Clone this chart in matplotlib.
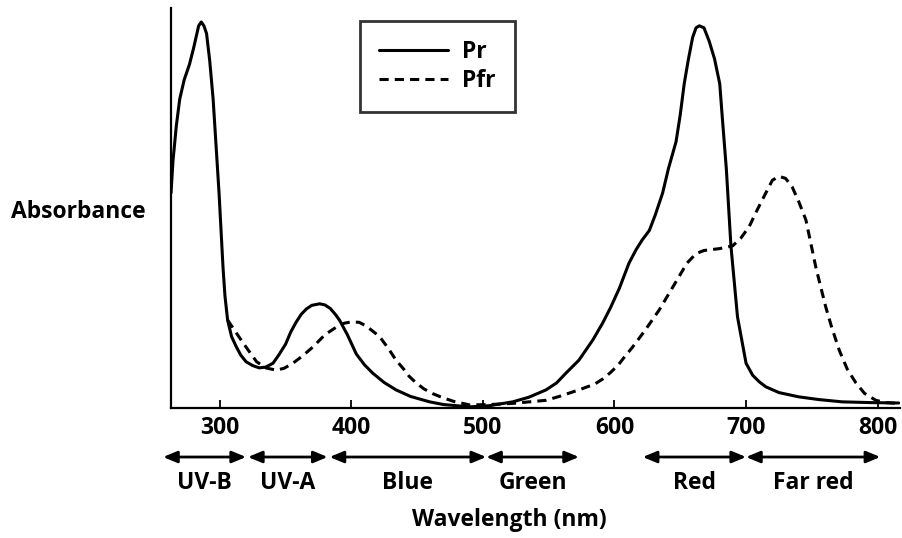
import matplotlib
matplotlib.use("Agg")
import matplotlib.pyplot as plt

# Absorption spectra of phytochrome
pr_wl = [263, 264.5, 267, 269.6, 273, 277, 280, 282, 284, 286, 288, 290, 292.4, 295,
         299.5, 302.5, 304, 306, 309, 312.7, 316, 320, 325, 330, 335, 340.5, 345, 350,
         354, 358, 362, 366, 370, 376, 380, 384, 388, 391, 397, 403.8, 410, 416.4, 425,
         434, 445, 459.5, 470, 490, 505, 522.7, 535, 548, 556, 563, 573, 583.5, 591, 597,
         603.7, 611, 616.4, 621, 626.5, 631, 636.6, 641, 646.8, 650, 653, 656, 659.4, 662,
         664.5, 668, 672, 676, 680, 682, 685, 688.5, 693.5, 700, 705, 710, 715, 725,
         740, 755, 773, 795, 816]
pr_abs = [0.557, 0.64, 0.73, 0.80, 0.85, 0.89, 0.93, 0.96, 0.99, 1.0, 0.99, 0.97, 0.90, 0.80,
          0.557, 0.365, 0.29, 0.228, 0.185, 0.158, 0.137, 0.12, 0.11, 0.104, 0.106, 0.116,
          0.138, 0.165, 0.197, 0.222, 0.243, 0.257, 0.266, 0.27, 0.267, 0.258, 0.242, 0.228,
          0.19, 0.14, 0.112, 0.09, 0.066, 0.047, 0.03, 0.016, 0.009, 0.003, 0.006, 0.016,
          0.028, 0.047, 0.065, 0.09, 0.124, 0.176, 0.22, 0.26, 0.31, 0.375, 0.41, 0.435,
          0.46, 0.5, 0.557, 0.62, 0.69, 0.76, 0.84, 0.9, 0.96, 0.985, 0.99, 0.985, 0.95,
          0.905, 0.84, 0.75, 0.62, 0.42, 0.236, 0.116, 0.085, 0.068, 0.055, 0.04, 0.029,
          0.022, 0.016, 0.014, 0.013]

pfr_wl = [306, 312.7, 320, 328, 335, 343, 349, 355.6, 363, 370.8, 380, 391, 395, 400, 406,
          411, 416, 421.5, 428, 434, 440, 444, 449, 455, 462, 470, 478, 490, 505, 522.7,
          548, 558, 573, 585, 591, 597, 603, 608, 613.8, 623, 634, 642, 649, 655, 662, 668,
          680, 689.8, 696, 702.4, 708, 715, 720, 725, 730, 735, 740, 745.5, 749, 753, 757,
          760.7, 765, 770.8, 777, 783.5, 790, 798.6, 806, 816]
pfr_abs = [0.228, 0.194, 0.158, 0.12, 0.104, 0.098, 0.103, 0.116, 0.135, 0.158, 0.19, 0.215,
           0.22, 0.223, 0.222, 0.213, 0.2, 0.185, 0.155, 0.124, 0.1, 0.082, 0.066, 0.05,
           0.037, 0.026, 0.017, 0.008, 0.009, 0.012, 0.02, 0.03, 0.047, 0.062, 0.075, 0.092,
           0.112, 0.134, 0.158, 0.2, 0.254, 0.3, 0.34, 0.375, 0.40, 0.408, 0.413, 0.42, 0.44,
           0.47, 0.51, 0.557, 0.59, 0.60, 0.595, 0.573, 0.535, 0.487, 0.43, 0.365, 0.31,
           0.26, 0.21, 0.15, 0.1, 0.065, 0.038, 0.02, 0.014, 0.012]

# spectral bands shown under the axis (start nm, end nm, label)
band_names = ["UV-B", "UV-A", "Blue", "Green", "Red", "Far red"]
band_start = [257, 321.5, 383.5, 502.5, 621.5, 700]
band_end = [320, 382, 502.5, 573, 700, 802]

xticks = [300, 400, 500, 600, 700, 800]

FONT = "Open Sans"
FS = 16.5

fig = plt.figure(figsize=(9.02, 5.38), dpi=100)
ax = fig.add_axes([0.1896, 0.2416, 0.8082, 0.7434])

ax.plot(pr_wl, pr_abs, color="black", lw=2.2, label="Pr",
        solid_capstyle="round", solid_joinstyle="round")
ax.plot(pfr_wl, pfr_abs, color="black", lw=2.2, linestyle=(0, (3, 2)), label="Pfr")

ax.set_xlim(263, 817)
ax.set_ylim(0, 1.036)

for side in ["top", "right"]:
    ax.spines[side].set_visible(False)
ax.spines["left"].set_linewidth(1.6)
ax.spines["bottom"].set_linewidth(1.6)

ax.set_yticks([])
ax.set_xticks(xticks)
ax.set_xticklabels([str(t) for t in xticks], fontfamily=FONT, fontweight="bold", fontsize=FS)
ax.tick_params(axis="x", direction="in", length=6, width=1.3, pad=6)

# band arrows and labels
for name, s, e in zip(band_names, band_start, band_end):
    ax.annotate("", xy=(e, -0.1225), xytext=(s, -0.1225),
                xycoords=("data", "axes fraction"), textcoords=("data", "axes fraction"),
                arrowprops=dict(arrowstyle="<|-|>,head_length=0.6,head_width=0.25",
                                lw=2, color="black", shrinkA=0, shrinkB=0,
                                mutation_scale=14),
                annotation_clip=False)
    ax.text((s + e) / 2, -0.1875, name, transform=ax.get_xaxis_transform(),
            ha="center", va="center", fontfamily=FONT, fontweight="bold", fontsize=FS,
            clip_on=False)

ax.text(520, -0.28, "Wavelength (nm)", transform=ax.get_xaxis_transform(),
        ha="center", va="center", fontfamily=FONT, fontweight="bold", fontsize=FS,
        clip_on=False)
ax.text(-0.1276, 0.49, "Absorbance", transform=ax.transAxes,
        ha="center", va="center", fontfamily=FONT, fontweight="bold", fontsize=FS,
        clip_on=False)

leg = ax.legend(loc="upper left", bbox_to_anchor=(0.259, 0.968),
                prop={"family": FONT, "weight": "bold", "size": FS},
                frameon=True, fancybox=False, edgecolor="black",
                handlelength=3.0, handletextpad=0.6, borderpad=0.85,
                labelspacing=0.2, borderaxespad=0)
leg.get_frame().set_linewidth(2)

plt.savefig("out.png", dpi=100)
